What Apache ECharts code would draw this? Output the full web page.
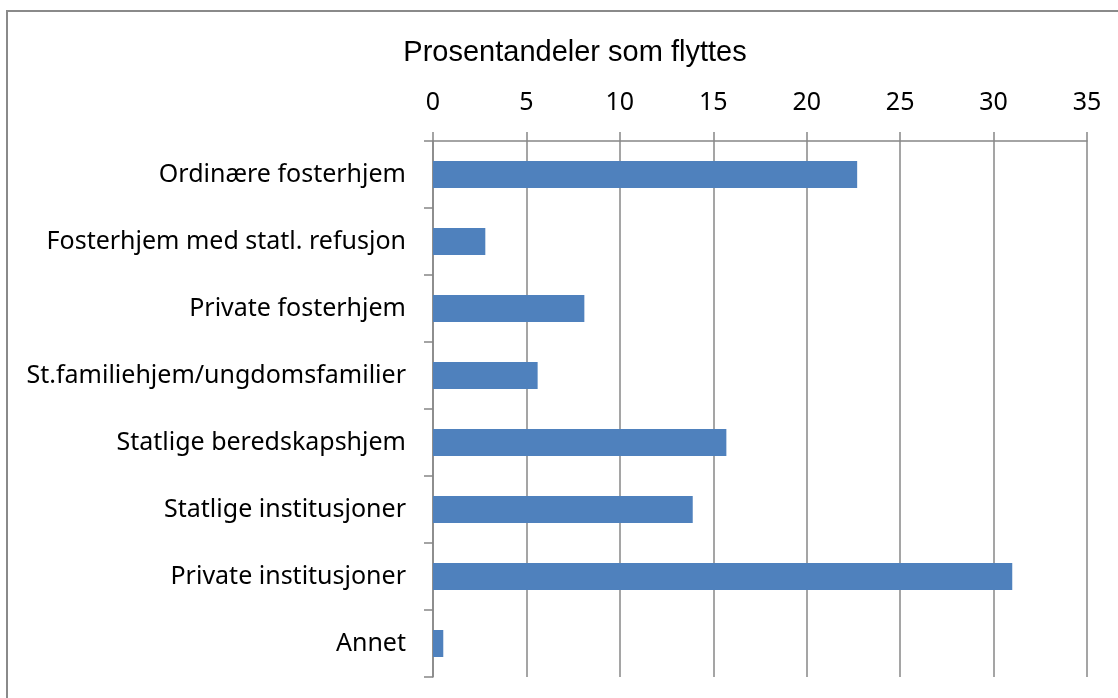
<!DOCTYPE html>
<html>
<head>
<meta charset="utf-8">
<script src="https://cdn.jsdelivr.net/npm/echarts@6/dist/echarts.min.js"></script>
<style>html,body{margin:0;padding:0;background:#fff;}#c{width:1118px;height:698px;}</style>
</head>
<body>
<div id="c"></div>
<script>
const categories = ["Ordinære fosterhjem","Fosterhjem med statl. refusjon","Private fosterhjem","St.familiehjem/ungdomsfamilier","Statlige beredskapshjem","Statlige institusjoner","Private institusjoner","Annet"];
const values = [22.7, 2.8, 8.1, 5.6, 15.7, 13.9, 31.0, 0.55];
const titleText = "Prosentandeler som flyttes";

const chart = echarts.init(document.getElementById('c'), null, {renderer:'canvas'});
const gridColor = '#878787';
chart.setOption({
  animation: false,
  backgroundColor: '#fff',
  title: {
    text: titleText, left: 570, top: 33, textAlign: 'center',
    textStyle: {fontFamily: 'Liberation Sans, Arial', fontSize: 29, fontWeight: 'normal', color: '#000'}
  },
  graphic: [{type:'rect', shape:{x:7, y:11, width:1200, height:800}, style:{fill:'none', stroke:'#8a8a8a', lineWidth:2}, silent:true}],
  grid: {left: 433, right: 31, top: 141, bottom: 21, containLabel: false},
  xAxis: {
    type: 'value', position: 'top', min: 0, max: 35, interval: 5,
    axisLine: {show: true, lineStyle: {color: gridColor, width: 1.5}},
    axisTick: {show: true, length: 9, lineStyle: {color: gridColor, width: 1.5}},
    axisLabel: {margin: 26, fontFamily: 'Noto Sans', fontSize: 25, color: '#000'},
    splitLine: {show: true, lineStyle: {color: gridColor, width: 1.5}}
  },
  yAxis: {
    type: 'category', data: categories, inverse: true,
    axisLine: {show: true, lineStyle: {color: gridColor, width: 1.5}},
    axisTick: {show: true, length: 9, lineStyle: {color: gridColor, width: 1.5}},
    axisLabel: {margin: 27, fontFamily: 'Noto Sans', fontSize: 25, color: '#000'}
  },
  series: [{
    type: 'bar', data: values, barWidth: 27,
    itemStyle: {color: '#4F81BD'}
  }]
});
</script>
</body>
</html>
